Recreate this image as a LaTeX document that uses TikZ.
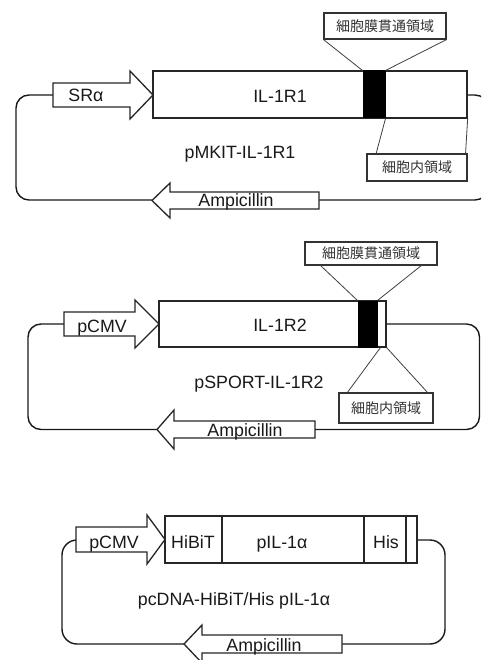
\documentclass[tikz,border=0pt]{standalone}
\usepackage{fontspec}
\setmainfont{Liberation Sans}
\newfontfamily\cjk{Noto Sans CJK JP}
\tikzset{
  outl/.style={draw=black!85, line width=1.3pt, fill=white},
  blk/.style={draw=black, fill=black, line width=1pt, inner sep=0pt},
  genebox/.style={outl, inner sep=0pt},
  lbl/.style={font=\fontsize{17.8}{18}\selectfont, inner sep=0pt, anchor=base, text=black!90},
  jbox/.style={font=\cjk\fontsize{14}{14}\selectfont, text=black!80, draw=black!80, line width=1.1pt, fill=white, inner sep=0pt},
  bbone/.style={draw=black!90, line width=1.4pt, rounded corners=13pt},
  callout/.style={draw=black!75, line width=0.8pt},
}
\begin{document}
\begin{tikzpicture}[x=1pt,y=-1pt]
\useasboundingbox (0,0) rectangle (481,660);
\fill[white] (0,0) rectangle (481,660);
\clip (0,0) rectangle (481,660);

% ================= Section 1 =================
\coordinate (s1pw) at (53,95);
\coordinate (s1gr) at (467,95);
\coordinate (s1at) at (152,200);
\coordinate (s1ar) at (319,200);
\draw[bbone] (s1pw) -- (16,95) -- (16,200) -- (s1at);
\draw[bbone] (s1ar) -- (488,200) -- (488,95) -- (s1gr);
% promoter arrow
\draw[outl] (53,83) -- (130,83) -- (130,71) -- (153,95) -- (130,119) -- (130,107) -- (53,107) -- cycle;
\node[lbl] (s1p) at (86,102) {SRα};
% gene box
\node[genebox, minimum width=314pt, minimum height=47pt] (g1) at (310,94.5) {};
\node[blk, minimum width=22pt, minimum height=47pt] (tm1) at (374,94.5) {};
\node[lbl] (g1t) at (280,103) {IL-1R1};
% ampicillin arrow
\draw[outl] (152,200.5) -- (170,183) -- (170,192) -- (319,192) -- (319,209) -- (170,209) -- (170,218) -- cycle;
\node[lbl] (s1amp) at (236,207) {Ampicillin};
\node[lbl] (s1name) at (240,159) {pMKIT-IL-1R1};
% callouts
\node[jbox, minimum width=122pt, minimum height=26pt] (t1) at (385,26) {細胞膜貫通領域};
\node[jbox, minimum width=100pt, minimum height=27pt] (b1) at (417,167.5) {細胞内領域};
\draw[callout] (t1.south west) -- (tm1.north west);
\draw[callout] (t1.south east) -- (tm1.north east);
\coordinate (b1l) at (376,154);
\draw[callout] (tm1.south east) -- (b1l);
\draw[callout] (g1.south east) -- ([xshift=-2pt]b1.north east);

% ================= Section 2 =================
\coordinate (s2pw) at (64,324);
\coordinate (s2gr) at (386,324);
\coordinate (s2at) at (157,429.5);
\coordinate (s2ar) at (315,429.5);
\draw[bbone] (s2pw) -- (28,324) -- (28,429.5) -- (s2at);
\draw[bbone] (s2ar) -- (479.5,429.5) -- (479.5,324) -- (s2gr);
\draw[outl] (64,312) -- (135,312) -- (135,300) -- (159,324) -- (135,348) -- (135,336) -- (64,336) -- cycle;
\node[lbl] (s2p) at (102,332) {pCMV};
\node[genebox, minimum width=227pt, minimum height=46pt] (g2) at (272.5,324) {};
\node[blk, minimum width=19pt, minimum height=46pt] (tm2) at (367.5,324) {};
\node[lbl] (g2t) at (280,331) {IL-1R2};
\draw[outl] (157,429.5) -- (174,410) -- (174,421) -- (315,421) -- (315,438) -- (174,438) -- (174,449) -- cycle;
\node[lbl] (s2amp) at (245,436.5) {Ampicillin};
\node[lbl] (s2name) at (259,388) {pSPORT-IL-1R2};
\node[jbox, minimum width=132pt, minimum height=23pt] (t2) at (371,253.5) {細胞膜貫通領域};
\node[jbox, minimum width=94pt, minimum height=30pt] (b2) at (386,408) {細胞内領域};
\coordinate (t2l) at (320,265);
\coordinate (t2r) at (422,265);
\coordinate (b2l) at (347,393);
\coordinate (b2r) at (428,393);
\draw[callout] (t2l) -- (tm2.north west);
\draw[callout] (t2r) -- (tm2.north east);
\draw[callout] ([xshift=3pt]tm2.south east) -- (b2l);
\draw[callout] (g2.south east) -- (b2r);

% ================= Section 3 =================
\coordinate (s3pw) at (76,540);
\coordinate (s3gr) at (417,540);
\coordinate (s3at) at (184,644);
\coordinate (s3ar) at (342,644);
\draw[bbone, rounded corners=15pt] (s3pw) -- (62,540) -- (62,644) -- (s3at);
\draw[bbone, rounded corners=15pt] (s3ar) -- (445,644) -- (445,540) -- (s3gr);
\draw[outl] (76,527) -- (147,527) -- (147,515) -- (165,539.5) -- (147,564) -- (147,552) -- (76,552) -- cycle;
\node[lbl] (s3p) at (114,548) {pCMV};
\node[genebox, minimum width=252pt, minimum height=47pt] (g3) at (291,539.5) {};
\draw[outl] (222,516) -- (222,563);
\draw[outl] (364,516) -- (364,563);
\draw[outl] (406,516) -- (406,563);
\node[lbl] (g3a) at (193,548) {HiBiT};
\node[lbl] (g3b) at (282,548) {pIL-1α};
\node[lbl] (g3c) at (386,548) {His};
\draw[outl] (184,644) -- (202,625) -- (202,635) -- (342,635) -- (342,653) -- (202,653) -- (202,663) -- cycle;
\node[lbl] (s3amp) at (264,651.5) {Ampicillin};
\node[lbl] (s3name) at (234,605) {pcDNA-HiBiT/His pIL-1α};
\end{tikzpicture}
\end{document}
